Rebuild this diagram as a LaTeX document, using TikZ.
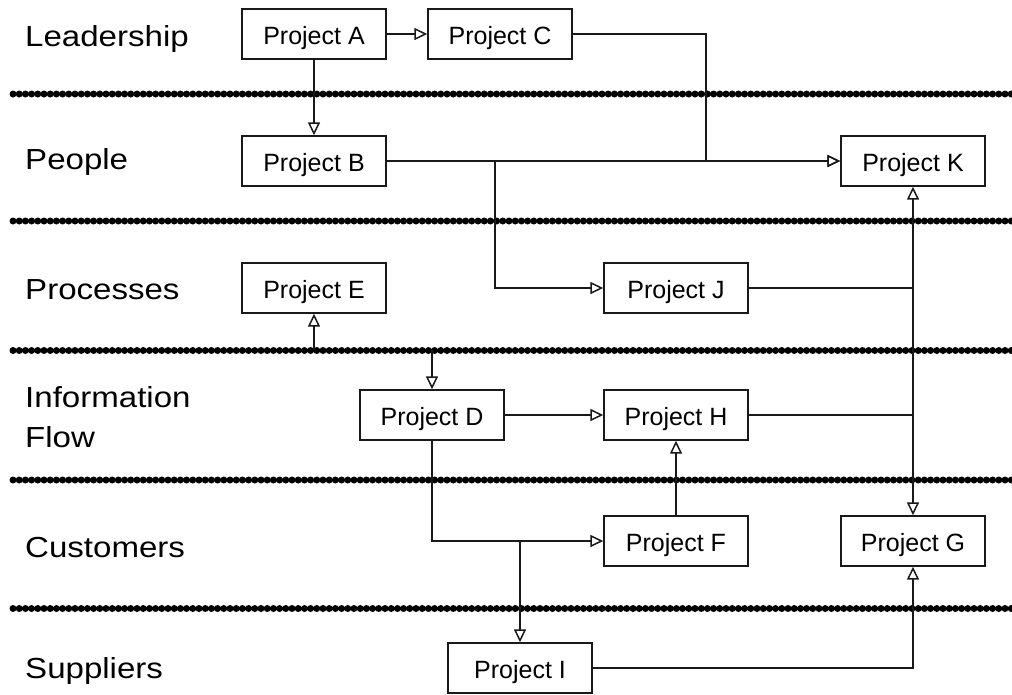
\documentclass[tikz,border=0pt]{standalone}
\usepackage{fontspec}
\setmainfont{Liberation Sans}
\usetikzlibrary{arrows.meta}
\newcommand\lanetext[1]{\scalebox{1.14}[1]{#1}}
\begin{document}
\begin{tikzpicture}[x=1pt,y=-1pt,
  projbox/.style={draw=black!90, line width=1.4pt, minimum width=144pt,
    minimum height=50pt, inner sep=0pt, text height=20.9pt, text depth=0pt,
    font=\fontsize{25}{30}\selectfont},
  lane/.style={anchor=base west, inner sep=0pt, font=\fontsize{29}{35}\selectfont},
  sepline/.style={line width=7pt, line cap=round, dash pattern=on 0pt off 6.2pt},
  conn/.style={line width=2pt, black!90},
  arr/.style={conn, -{Triangle[open, length=13pt, width=12pt, line width=1.5pt]}},
  arrboth/.style={conn, {Triangle[open, length=13pt, width=12pt, line width=1.5pt]}-{Triangle[open, length=13pt, width=12pt, line width=1.5pt]}}
]
\useasboundingbox (0,0) rectangle (1012,694);

% lane separators
\foreach \yy in {94,221,350.5,480,608.5}
  \draw[sepline] (13,\yy) -- (1012,\yy);

% lane titles
\node[lane] (lLead) at (25,46)    {\lanetext{Leadership}};
\node[lane] (lPeop) at (25,169)   {\lanetext{People}};
\node[lane] (lProc) at (25,299)   {\lanetext{Processes}};
\node[lane] (lInf1) at (25,407)   {\lanetext{Information}};
\node[lane] (lInf2) at (25,447)   {\lanetext{Flow}};
\node[lane] (lCust) at (25,557)   {\lanetext{Customers}};
\node[lane] (lSupp) at (25,678)   {\lanetext{Suppliers}};

% projects
\node[projbox] (A) at (314,34)  {Project A};
\node[projbox] (C) at (500,34)  {Project C};
\node[projbox] (B) at (314,161) {Project B};
\node[projbox] (K) at (913,161) {Project K};
\node[projbox] (E) at (314,288) {Project E};
\node[projbox] (J) at (676,288) {Project J};
\node[projbox] (D) at (432,415) {Project D};
\node[projbox] (H) at (676,415) {Project H};
\node[projbox] (F) at (676,541) {Project F};
\node[projbox] (G) at (913,541) {Project G};
\node[projbox] (I) at (520,668) {Project I};

% junction points
\coordinate (cTurn) at (706,34);
\coordinate (bSplit) at (495,161);
\coordinate (eFrom) at (314,350);
\coordinate (dFrom) at (432,350);
\coordinate (fSplit) at (520,541);

% connectors
\draw[arr] (A.east) -- (C.west);
\draw[arr] (A.south) -- (B.north);
\draw[arr] (C.east) -- (cTurn) |- (K.west);
\draw[arr] (B.east) -- (K.west);
\draw[arr] (bSplit) |- (J.west);
\draw[conn] (J.east) -- (J.east -| K.south);
\draw[conn] (H.east) -- (H.east -| K.south);
\draw[arrboth] (G.north) -- (K.south);
\draw[arr] (eFrom) -- (E.south);
\draw[arr] (dFrom) -- (D.north);
\draw[arr] (D.east) -- (H.west);
\draw[arr] (D.south) |- (F.west);
\draw[arr] (fSplit) -- (I.north);
\draw[arr] (F.north) -- (H.south);
\draw[arr] (I.east) -| (G.south);
\end{tikzpicture}
\end{document}
